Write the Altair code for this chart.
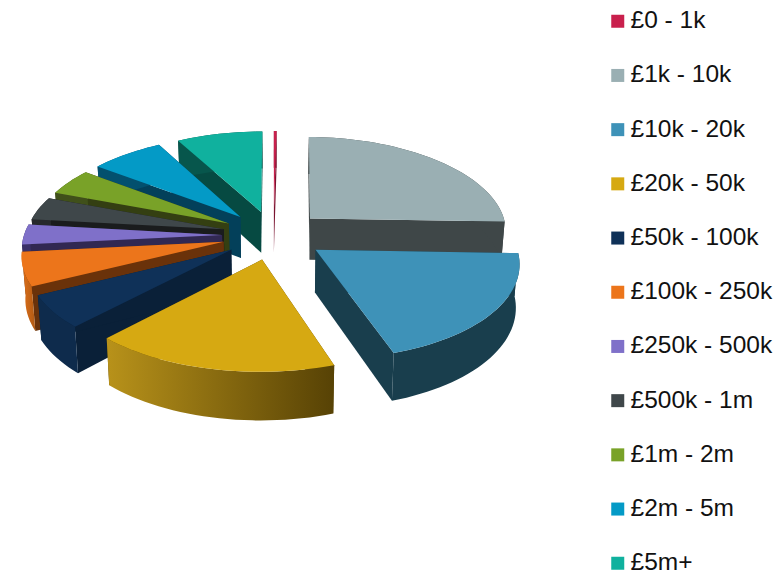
import math
import altair as alt

bands = ["£0 - 1k", "£1k - 10k", "£10k - 20k", "£20k - 50k", "£50k - 100k", "£100k - 250k",
         "£250k - 500k", "£500k - 1m", "£1m - 2m", "£2m - 5m", "£5m+"]
shares = [0.25, 25.25, 19.3, 17.2, 5.6, 5.7, 3.4, 3.9, 4.5, 6.8, 8.0]
top_colors = ["#c9204d", "#9aafb3", "#3e92b8", "#d6a912", "#0f3158", "#ec751b", "#7f70c9",
              "#3f474a", "#79a228", "#049ac6", "#10b19e"]
face_colors = ["#7a1430", "#3f4748", "#193e4d", "#5a4406", "#0a2038", "#6a320a", "#312852",
               "#1a1c1d", "#343f12", "#03405a", "#064a42"]
band_colors = ["#7a1430", "#3f4748", "#193e4d", None, "#0e2b4c", None, "#3a3068",
               "#26292b", "#40501a", "#03506e", "#07564c"]
draw_order = [0, 10, 1, 9, 8, 7, 6, 5, 4, 2, 3]

CX, CY, RX, RY, PERSP_X, PERSP_Y, DEPTH, EXPLODE = 273.5, 235.0, 198.0, 94.0, 0.12, 0.11, 42.0, 0.26


def proj(X, Y, z=0.0):
    fx = 1.0 / (1.0 + PERSP_X * Y)
    fy = 1.0 / (1.0 + PERSP_Y * Y)
    return [CX + RX * X * fx * (1.0 - 0.015 * z), CY - RY * Y * fy + z * DEPTH * fy]


def feature(rings):
    return {"type": "Feature", "geometry": {"type": "Polygon", "coordinates": [rings]}, "properties": {}}


slices = []
start = 0.0
total = sum(shares)
for share in shares:
    sweep = 360.0 * share / total
    slices.append((start, start + sweep))
    start += sweep

PROJECTION = dict(type="identity", scale=1, translate=[-8, -8])
layers = []


def face_layer(ring, fill):
    return alt.Chart(alt.Data(values=[feature(ring + ring[:1])], format=alt.DataFormat(type="json"))).mark_geoshape(
        fill=fill, strokeWidth=0).project(**PROJECTION)


color_scale = alt.Scale(domain=bands, range=top_colors)
for i in draw_order:
    a0, a1 = slices[i]
    mid = math.radians((a0 + a1) / 2)
    ax, ay = EXPLODE * math.sin(mid), EXPLODE * math.cos(mid)
    n = max(4, int((a1 - a0) / 2))
    arc = [(ax + math.sin(math.radians(a0 + (a1 - a0) * k / n)), ay + math.cos(math.radians(a0 + (a1 - a0) * k / n)))
           for k in range(n + 1)]
    top = [proj(ax, ay)] + [proj(x, y) for x, y in arc]
    low_arc = [proj(x, y, 1.0) for x, y in arc]
    r0 = [proj(ax, ay), proj(*arc[0]), low_arc[0], proj(ax, ay, 1.0)]
    r1 = [proj(ax, ay), proj(*arc[-1]), low_arc[-1], proj(ax, ay, 1.0)]
    layers.append(face_layer(r0, face_colors[i]))
    layers.append(face_layer(r1, face_colors[i]))
    outer = [proj(x, y) for x, y in arc] + low_arc[::-1]
    fill = band_colors[i]
    if bands[i] == "£20k - 50k":
        fill = alt.LinearGradient(gradient="linear", x1=0, x2=1, y1=0, y2=0,
                                  stops=[alt.GradientStop(offset=0, color="#b8921a"),
                                         alt.GradientStop(offset=1, color="#574205")])
    elif bands[i] == "£100k - 250k":
        fill = alt.LinearGradient(gradient="linear", x1=0, x2=1, y1=0, y2=0,
                                  stops=[alt.GradientStop(offset=0, color="#e0701a"),
                                         alt.GradientStop(offset=1, color="#b05a14")])
    layers.append(face_layer(outer, fill))
    top_feat = feature(top + top[:1])
    top_feat["properties"]["band"] = bands[i]
    layers.append(
        alt.Chart(alt.Data(values=[top_feat], format=alt.DataFormat(type="json"))).mark_geoshape(strokeWidth=0).encode(
            color=alt.Color("properties.band:N", scale=color_scale, legend=alt.Legend(
                orient="none", legendX=597.5, legendY=1, title=None, symbolType="square", symbolSize=169,
                symbolStrokeWidth=0, labelFont="Liberation Sans", labelFontSize=24.5, labelColor="#111111",
                labelOffset=0.5, rowPadding=29.2, labelLimit=200, values=bands))
        ).project(**PROJECTION))

chart = alt.layer(*layers).properties(width=767, height=563, padding=0, autosize=alt.AutoSizeParams(type="none")
                                      ).configure_view(stroke=None)
chart.save("out.html", embed_options={"renderer": "svg", "actions": False})
